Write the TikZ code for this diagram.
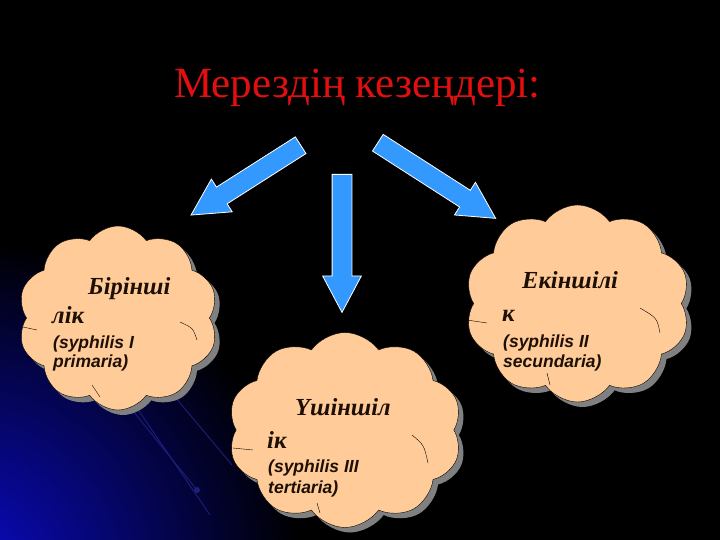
\documentclass[tikz,border=0pt]{standalone}
\usepackage{fontspec}
\setmainfont{Liberation Serif}
\newfontfamily\latinfont{Liberation Sans}
\usetikzlibrary{shapes.symbols,shapes.arrows,shadows}

\definecolor{titlered}{RGB}{225,15,15}
\definecolor{cloudpeach}{RGB}{255,204,153}
\definecolor{shadowgray}{RGB}{128,128,128}
\definecolor{arrowblue}{RGB}{51,153,255}
\definecolor{textdark}{RGB}{30,15,5}
\definecolor{glowblue}{RGB}{10,10,195}
\definecolor{decoblue}{RGB}{30,30,125}

\tikzset{
  stagecloud/.style = {cloud, cloud puffs = 10, cloud puff arc = 110, cloud ignores aspect,
    draw = black, thin, fill = cloudpeach, drop shadow = {shadow xshift = 5pt,
    shadow yshift = -5pt, fill = shadowgray, opacity = 1}},
  bluearrow/.style = {single arrow, draw = white, line width = 0.8pt, fill = arrowblue,
    inner xsep = 0pt, inner ysep = 9.5pt, single arrow head extend = 9.5pt,
    single arrow tip angle = 56, anchor = tail},
  stagename/.style = {anchor = base west, inner sep = 0pt, text = textdark,
    font = \fontsize{24.5}{24.5}\selectfont\bfseries\itshape},
  latinname/.style = {anchor = base west, inner sep = 0pt, text = textdark,
    font = \latinfont\fontsize{17.5}{20}\selectfont\bfseries\itshape},
  deco/.style = {decoblue, line width = 0.9pt},
  crease/.style = {black, thin}
}

\begin{document}
\begin{tikzpicture}[x = 1pt, y = 1pt]
\useasboundingbox (0,0) rectangle (720,-540);
% background
\fill[black] (0,0) rectangle (720,-540);
\begin{scope}
\clip (0,0) rectangle (720,-540);
\shade[inner color = glowblue, outer color = black] (-30,-570) circle (330);
\end{scope}
\draw[deco] (120,-395) -- (197,-490);
\draw[deco] (128,-395) -- (210,-515);
\draw[deco] (165,-385) -- (232,-465);
\fill[decoblue] (197,-490) circle (3);

\node[anchor = base, text = titlered, font = \fontsize{43}{43}\selectfont] (title) at (357.5,-98) {Мерездің кезеңдері:};

% arrows
\node[bluearrow, minimum height = 130pt, rotate = 212.5] (arrowone) at (301,-145) {};
\node[bluearrow, minimum height = 138pt, rotate = 270] (arrowthree) at (342,-174) {};
\node[bluearrow, minimum height = 140pt, rotate = -32.7] (arrowtwo) at (377.5,-142.5) {};

% clouds
\node[stagecloud, minimum width = 200pt, minimum height = 184pt] (primary) at (118,-318) {};
\node[stagecloud, minimum width = 225pt, minimum height = 197pt] (secondary) at (577.5,-303.5) {};
\node[stagecloud, minimum width = 234pt, minimum height = 195pt] (tertiary) at (345,-430) {};

% creases inside the clouds
\draw[crease] (180,-322) .. controls (193,-328) .. (197,-340);
\draw[crease] (23,-327) -- (37,-330);
\draw[crease] (92,-385) -- (100,-397);
\draw[crease] (640,-308) .. controls (657,-318) .. (660,-333);
\draw[crease] (467,-320) -- (487,-323);
\draw[crease] (547,-373) -- (550,-385);
\draw[crease] (412,-435) .. controls (424,-445) .. (428,-463);
\draw[crease] (233,-448) -- (253,-450);
\draw[crease] (317,-503) -- (320,-513);

% texts
\node[stagename] (primaryone) at (88,-294) {Бірінші};
\node[stagename] (primarytwo) at (52,-323) {лік};
\node[latinname] (primarythree) at (53,-348) {(syphilis I};
\node[latinname] (primaryfour) at (53,-367) {primaria)};

\node[stagename] (secondaryone) at (522,-288) {Екіншілі};
\node[stagename] (secondarytwo) at (502,-321) {к};
\node[latinname] (secondarythree) at (503,-347) {(syphilis II};
\node[latinname] (secondaryfour) at (503,-367) {secundaria)};

\node[stagename] (tertiaryone) at (295,-415) {Үшіншіл};
\node[stagename] (tertiarytwo) at (267,-448) {ік};
\node[latinname] (tertiarythree) at (268,-472) {(syphilis III};
\node[latinname] (tertiaryfour) at (268,-493) {tertiaria)};
\end{tikzpicture}
\end{document}
